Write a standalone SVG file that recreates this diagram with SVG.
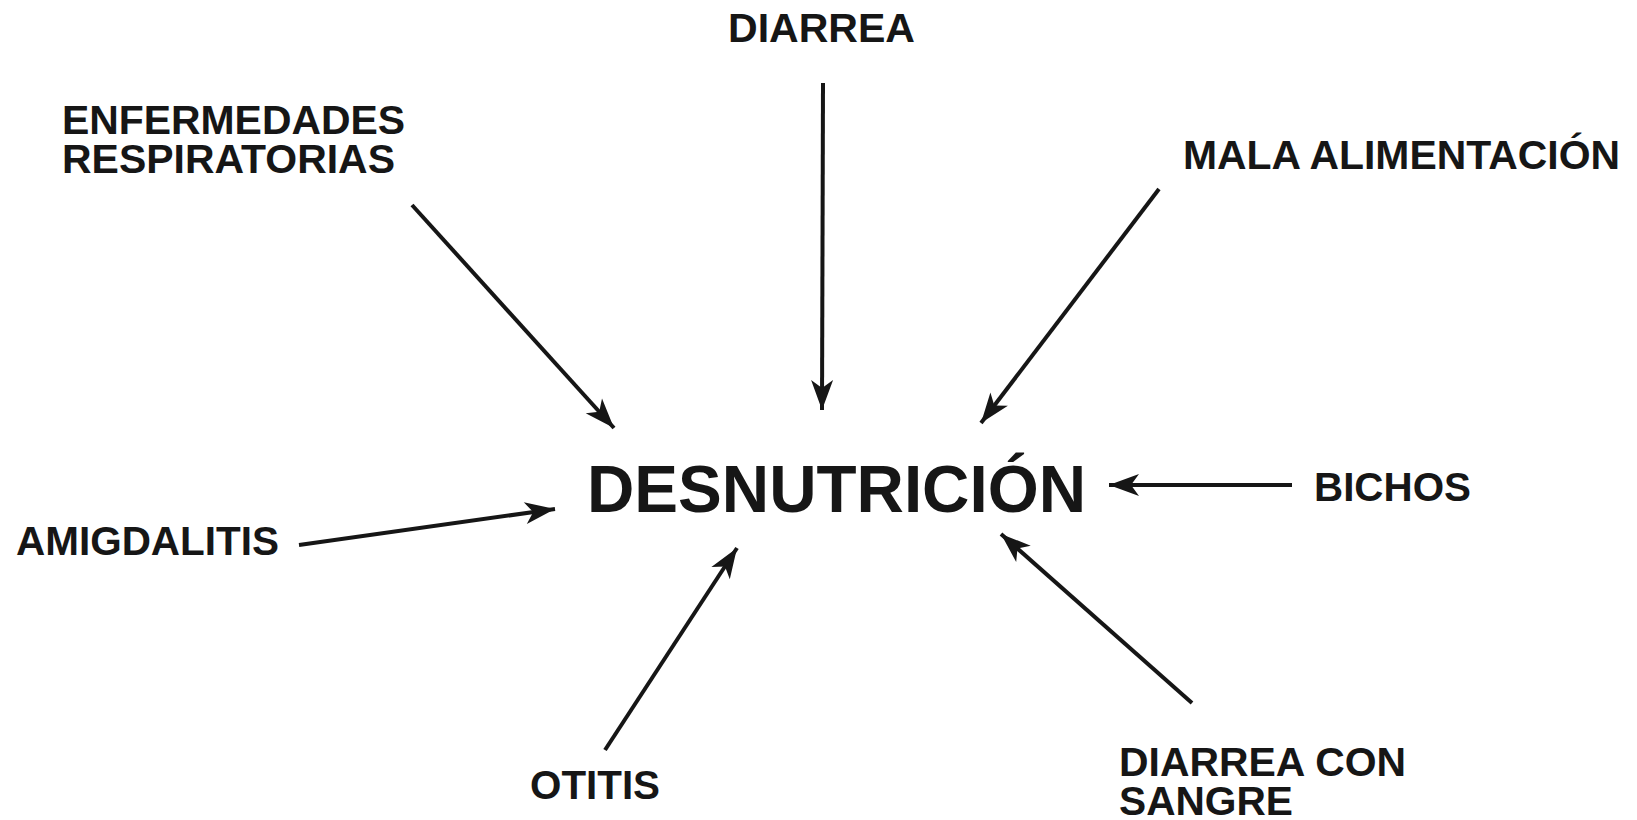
<svg xmlns="http://www.w3.org/2000/svg" width="1637" height="820" viewBox="0 0 1637 820">
  <style>
    .lbl { font-family: "Liberation Sans", Arial, Helvetica, sans-serif; font-weight: bold; font-size: 40px; fill: #161616; }
    .main { font-family: "Liberation Sans", Arial, Helvetica, sans-serif; font-weight: bold; font-size: 67px; fill: #161616; }
    .conn { stroke: #161616; stroke-width: 4; fill: none; marker-end: url(#arr); }
  </style>
  <defs>
    <marker id="arr" markerUnits="userSpaceOnUse" markerWidth="32" markerHeight="22" refX="30" refY="11" orient="auto" overflow="visible">
      <path d="M30,11 L0,0 L8,11 L0,22 Z" fill="#161616"/>
    </marker>
  </defs>
  <rect width="1637" height="820" fill="#ffffff"/>

  <g id="connectors">
    <line class="conn" x1="412" y1="205" x2="614" y2="428"/>
    <line class="conn" x1="823" y1="83" x2="822" y2="410"/>
    <line class="conn" x1="1159" y1="189" x2="981" y2="423"/>
    <line class="conn" x1="1292" y1="485" x2="1109" y2="485"/>
    <line class="conn" x1="299" y1="545" x2="555" y2="509"/>
    <line class="conn" x1="605" y1="750" x2="737" y2="548"/>
    <line class="conn" x1="1192" y1="703" x2="1001" y2="534"/>
  </g>

  <g id="node-desnutricion">
    <text class="main" x="587" y="512" textLength="499" lengthAdjust="spacingAndGlyphs">DESNUTRICIÓN</text>
  </g>
  <g id="node-diarrea">
    <text class="lbl" x="728" y="42" textLength="187" lengthAdjust="spacingAndGlyphs">DIARREA</text>
  </g>
  <g id="node-enfermedades">
    <text class="lbl" x="62" y="134" textLength="343" lengthAdjust="spacingAndGlyphs">ENFERMEDADES</text>
    <text class="lbl" x="62" y="173" textLength="333" lengthAdjust="spacingAndGlyphs">RESPIRATORIAS</text>
  </g>
  <g id="node-mala">
    <text class="lbl" x="1183" y="169" textLength="437" lengthAdjust="spacingAndGlyphs">MALA ALIMENTACIÓN</text>
  </g>
  <g id="node-bichos">
    <text class="lbl" x="1314" y="501" textLength="157" lengthAdjust="spacingAndGlyphs">BICHOS</text>
  </g>
  <g id="node-amigdalitis">
    <text class="lbl" x="16" y="555" textLength="263" lengthAdjust="spacingAndGlyphs">AMIGDALITIS</text>
  </g>
  <g id="node-otitis">
    <text class="lbl" x="530" y="799" textLength="130" lengthAdjust="spacingAndGlyphs">OTITIS</text>
  </g>
  <g id="node-diarrea-sangre">
    <text class="lbl" x="1119" y="776" textLength="287" lengthAdjust="spacingAndGlyphs">DIARREA CON</text>
    <text class="lbl" x="1119" y="815" textLength="174" lengthAdjust="spacingAndGlyphs">SANGRE</text>
  </g>
</svg>
